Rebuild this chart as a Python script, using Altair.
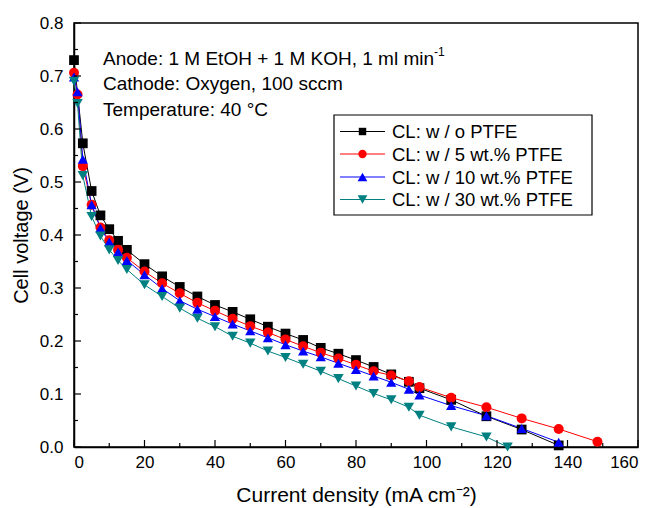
import altair as alt
import pandas as pd

# ---------------- data ----------------
series_names = ["CL: w / o PTFE", "CL: w / 5 wt.% PTFE", "CL: w / 10 wt.% PTFE", "CL: w / 30 wt.% PTFE"]
series_colors = ["#000000", "#FF0000", "#0000FF", "#008080"]
series_shapes = ["square", "circle", "triangle-up", "triangle-down"]

x_black = [0, 2.5, 5, 7.5, 10, 12.5, 15, 20, 25, 30, 35, 40, 45, 50, 55, 60, 65, 70, 75, 80, 85, 90, 95, 98, 107, 117, 127, 137.5]
v_black = [0.730, 0.573, 0.483, 0.437, 0.411, 0.389, 0.372, 0.345, 0.322, 0.302, 0.284, 0.268, 0.255, 0.241,
           0.227, 0.214, 0.202, 0.187, 0.176, 0.164, 0.151, 0.137, 0.123, 0.111, 0.089, 0.058, 0.033, 0.003]

x_red = [0, 1, 2.5, 5, 7.5, 10, 12.5, 15, 20, 25, 30, 35, 40, 45, 50, 55, 60, 65, 70, 75, 80, 85, 90, 95, 98, 107, 117, 127, 137.5, 148.5]
v_red = [0.706, 0.665, 0.530, 0.457, 0.414, 0.390, 0.372, 0.357, 0.331, 0.309, 0.290, 0.272, 0.257, 0.242, 0.228,
         0.216, 0.203, 0.190, 0.178, 0.167, 0.155, 0.143, 0.135, 0.124, 0.113, 0.093, 0.075, 0.054, 0.034, 0.010]

x_blue = [0, 1, 2.5, 5, 7.5, 10, 12.5, 15, 20, 25, 30, 35, 40, 45, 50, 55, 60, 65, 70, 75, 80, 85, 90, 95, 98, 107, 117, 127, 137.5]
v_blue = [0.698, 0.670, 0.543, 0.457, 0.413, 0.387, 0.368, 0.352, 0.325, 0.299, 0.276, 0.260, 0.246, 0.232, 0.219,
          0.206, 0.193, 0.181, 0.170, 0.158, 0.146, 0.134, 0.122, 0.109, 0.098, 0.078, 0.059, 0.035, 0.009]

x_teal = [0, 1, 2.5, 5, 7.5, 10, 12.5, 15, 20, 25, 30, 35, 40, 45, 50, 55, 60, 65, 70, 75, 80, 85, 90, 95, 98, 107, 117, 123]
v_teal = [0.690, 0.648, 0.512, 0.435, 0.398, 0.372, 0.352, 0.335, 0.306, 0.284, 0.262, 0.243, 0.227, 0.209, 0.196,
          0.181, 0.169, 0.156, 0.143, 0.129, 0.115, 0.101, 0.089, 0.075, 0.060, 0.038, 0.019, 0.000]

x_major_ticks = [0, 20, 40, 60, 80, 100, 120, 140, 160]
x_minor_ticks = [10, 30, 50, 70, 90, 110, 130, 150]
y_major_ticks = [0.0, 0.1, 0.2, 0.3, 0.4, 0.5, 0.6, 0.7, 0.8]
y_minor_ticks = [0.05, 0.15, 0.25, 0.35, 0.45, 0.55, 0.65, 0.75]

# ---------------- table ----------------
rows = []
for name, xs, vs in zip(series_names, [x_black, x_red, x_blue, x_teal], [v_black, v_red, v_blue, v_teal]):
    for xv, vv in zip(xs, vs):
        rows.append({"series": name, "x": xv, "v": vv})
df = pd.DataFrame(rows)

FONT = "Liberation Sans"
W, H = 564, 424

xscale = alt.Scale(domain=[0, 160], nice=False, zero=False)
yscale = alt.Scale(domain=[0, 0.8], nice=False, zero=False)

x_axis = alt.Axis(values=x_major_ticks, format="d", title="Current density (mA cm\u207b\u00b2)",
                  ticks=False, grid=False, labelPadding=7, titlePadding=14, titleFontSize=21)
y_axis = alt.Axis(values=y_major_ticks, format=".1f", title="Cell voltage (V)",
                  ticks=False, grid=False, labelPadding=11, titlePadding=8)

color_scale = alt.Scale(domain=series_names, range=series_colors)
shape_scale = alt.Scale(domain=series_names, range=series_shapes)
size_scale = alt.Scale(domain=series_names, range=[95, 110, 140, 140])

lines = alt.Chart(df).mark_line(strokeWidth=1).encode(
    x=alt.X("x:Q", scale=xscale, axis=x_axis),
    y=alt.Y("v:Q", scale=yscale, axis=y_axis),
    color=alt.Color("series:N", scale=color_scale, legend=None),
    detail="series:N",
)

points = alt.Chart(df).mark_point(filled=True, opacity=1).encode(
    x=alt.X("x:Q", scale=xscale, axis=x_axis),
    y=alt.Y("v:Q", scale=yscale, axis=y_axis),
    color=alt.Color("series:N", scale=color_scale, legend=None),
    shape=alt.Shape("series:N", scale=shape_scale, legend=None),
    size=alt.Size("series:N", scale=size_scale, legend=None),
)

xt_major = alt.Chart(pd.DataFrame({"x": x_major_ticks})).mark_rule(color="black", strokeWidth=1.2).encode(
    x=alt.X("x:Q", scale=xscale, axis=x_axis), y=alt.value(H), y2=alt.value(H - 7))
xt_minor = alt.Chart(pd.DataFrame({"x": x_minor_ticks})).mark_rule(color="black", strokeWidth=1.2).encode(
    x=alt.X("x:Q", scale=xscale, axis=x_axis), y=alt.value(H), y2=alt.value(H - 4))
yt_major = alt.Chart(pd.DataFrame({"v": y_major_ticks})).mark_rule(color="black", strokeWidth=1.2).encode(
    y=alt.Y("v:Q", scale=yscale, axis=y_axis), x=alt.value(0), x2=alt.value(7))
yt_minor = alt.Chart(pd.DataFrame({"v": y_minor_ticks})).mark_rule(color="black", strokeWidth=1.2).encode(
    y=alt.Y("v:Q", scale=yscale, axis=y_axis), x=alt.value(0), x2=alt.value(4))

dummy = pd.DataFrame({"a": [0]})


def text_at(text, x, y, size=19):
    return alt.Chart(dummy).mark_text(text=text, align="left", baseline="alphabetic", font=FONT,
                                      fontSize=size, color="black").encode(x=alt.value(x), y=alt.value(y))


notes = [
    text_at("Anode: 1 M EtOH + 1 M KOH, 1 ml min", 29, 42),
    text_at("-1", 29 + 331, 33, 12),
    text_at("Cathode: Oxygen, 100 sccm", 29, 67),
    text_at("Temperature: 40 \u00b0C", 29, 93),
]

# ---------------- hand-built legend (line + marker + label) ----------------
legend_parts = [
    alt.Chart(dummy).mark_rect(fill="white", stroke="black", strokeWidth=1.2).encode(
        x=alt.value(260), x2=alt.value(518), y=alt.value(92), y2=alt.value(192))
]
row_centres = [108.5, 131, 154, 176.5]
legend_sizes = [55, 70, 95, 95]
for name, col, shp, sz, yc in zip(series_names, series_colors, series_shapes, legend_sizes, row_centres):
    legend_parts.append(alt.Chart(dummy).mark_rule(color=col, strokeWidth=1).encode(
        x=alt.value(266), x2=alt.value(311), y=alt.value(yc)))
    legend_parts.append(alt.Chart(dummy).mark_point(shape=shp, filled=True, color=col, size=sz, opacity=1).encode(
        x=alt.value(288.5), y=alt.value(yc)))
    legend_parts.append(alt.Chart(dummy).mark_text(text=name, align="left", baseline="alphabetic", font=FONT,
                                                   fontSize=18.5, color="black").encode(
        x=alt.value(318), y=alt.value(yc + 6.5)))

chart = alt.layer(lines, points, xt_major, xt_minor, yt_major, yt_minor, *notes, *legend_parts).properties(
    width=W, height=H,
    padding={"left": 74, "top": 23, "right": 23, "bottom": 61},
    autosize=alt.AutoSizeParams(type="none"),
).configure_view(
    stroke="black", strokeWidth=1.5
).configure_axis(
    domainColor="black", domainWidth=1.5, labelFont=FONT, labelFontSize=17, labelColor="black",
    titleFont=FONT, titleFontSize=20, titleFontWeight="normal", titleColor="black"
)

chart.save("out.html", embed_options={"renderer": "svg", "actions": False})
